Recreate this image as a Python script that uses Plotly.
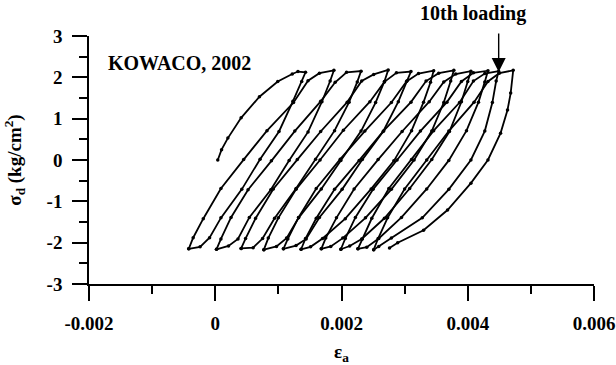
import plotly.graph_objects as go

# Axial strain / deviator stress, read cycle by cycle (reload branch + unload branch)
strain_c1 = [0.00004, 0.00010, 0.00020, 0.00041, 0.00070, 0.00099, 0.00122, 0.00131, 0.00143,
             0.00137, 0.00123, 0.00101, 0.00071, 0.00042, 0.00009, -0.00009, -0.00024, -0.00042]
stress_c1 = [0.00, 0.25, 0.53, 1.02, 1.53, 1.90, 2.08, 2.14, 2.12,
             1.90, 1.42, 0.69, 0.02, -0.71, -1.40, -1.88, -2.10, -2.15]

strain_c2 = [-0.00042, -0.00035, -0.00019, 0.00009, 0.00045, 0.00082, 0.00124, 0.00147, 0.00165, 0.00188,
             0.00182, 0.00169, 0.00147, 0.00117, 0.00088, 0.00054, 0.00036, 0.00021, 0.00002]
stress_c2 = [-2.15, -1.88, -1.42, -0.69, 0.01, 0.71, 1.39, 1.92, 2.10, 2.17,
             1.91, 1.41, 0.68, -0.01, -0.72, -1.39, -1.91, -2.08, -2.16]

strain_c3 = [0.00002, 0.00009, 0.00025, 0.00052, 0.00089, 0.00126, 0.00167, 0.00190, 0.00208, 0.00231,
             0.00225, 0.00212, 0.00189, 0.00159, 0.00128, 0.00094, 0.00075, 0.00060, 0.00041]
stress_c3 = [-2.16, -1.91, -1.39, -0.72, -0.02, 0.70, 1.42, 1.88, 2.12, 2.15,
             1.89, 1.40, 0.71, 0.02, -0.69, -1.41, -1.90, -2.12, -2.14]

strain_c4 = [0.00041, 0.00048, 0.00064, 0.00092, 0.00130, 0.00167, 0.00209, 0.00232, 0.00251, 0.00274,
             0.00268, 0.00254, 0.00231, 0.00199, 0.00168, 0.00132, 0.00113, 0.00097, 0.00077]
stress_c4 = [-2.14, -1.90, -1.41, -0.70, 0.01, 0.69, 1.40, 1.91, 2.07, 2.18,
             1.90, 1.39, 0.70, -0.01, -0.70, -1.40, -1.89, -2.09, -2.17]

strain_c5 = [0.00077, 0.00084, 0.00100, 0.00128, 0.00166, 0.00203, 0.00245, 0.00268, 0.00287, 0.00310,
             0.00304, 0.00290, 0.00266, 0.00233, 0.00201, 0.00165, 0.00144, 0.00128, 0.00108]
stress_c5 = [-2.17, -1.89, -1.40, -0.71, 0.00, 0.72, 1.41, 1.89, 2.11, 2.14,
             1.92, 1.41, 0.69, 0.01, -0.71, -1.39, -1.91, -2.07, -2.15]

strain_c6 = [0.00108, 0.00115, 0.00132, 0.00160, 0.00198, 0.00237, 0.00279, 0.00303, 0.00322, 0.00346,
             0.00341, 0.00330, 0.00311, 0.00283, 0.00247, 0.00206, 0.00170, 0.00151, 0.00136]
stress_c6 = [-2.15, -1.91, -1.39, -0.69, 0.02, 0.70, 1.39, 1.90, 2.09, 2.16,
             1.88, 1.40, 0.71, -0.02, -0.70, -1.42, -1.90, -2.10, -2.16]

strain_c7 = [0.00136, 0.00143, 0.00160, 0.00189, 0.00228, 0.00267, 0.00310, 0.00334, 0.00354, 0.00378,
             0.00373, 0.00362, 0.00343, 0.00315, 0.00279, 0.00238, 0.00202, 0.00183, 0.00168]
stress_c7 = [-2.16, -1.90, -1.41, -0.71, -0.01, 0.71, 1.40, 1.91, 2.10, 2.17,
             1.91, 1.39, 0.70, 0.00, -0.71, -1.40, -1.89, -2.09, -2.15]

strain_c8 = [0.00168, 0.00175, 0.00192, 0.00220, 0.00258, 0.00296, 0.00339, 0.00362, 0.00381, 0.00405,
             0.00400, 0.00390, 0.00371, 0.00343, 0.00308, 0.00268, 0.00232, 0.00213, 0.00199]
stress_c8 = [-2.15, -1.89, -1.40, -0.70, 0.01, 0.69, 1.41, 1.89, 2.08, 2.15,
             1.90, 1.41, 0.69, 0.01, -0.69, -1.41, -1.91, -2.08, -2.16]

strain_c9 = [0.00199, 0.00206, 0.00222, 0.00250, 0.00288, 0.00325, 0.00367, 0.00390, 0.00409, 0.00432,
             0.00427, 0.00417, 0.00398, 0.00370, 0.00335, 0.00295, 0.00259, 0.00240, 0.00226]
stress_c9 = [-2.16, -1.90, -1.39, -0.71, 0.00, 0.70, 1.40, 1.90, 2.11, 2.16,
             1.89, 1.40, 0.71, -0.01, -0.70, -1.39, -1.90, -2.11, -2.15]

strain_c10 = [0.00226, 0.00233, 0.00248, 0.00275, 0.00311, 0.00346, 0.00387, 0.00409, 0.00427, 0.00449,
              0.00445, 0.00439, 0.00427, 0.00405, 0.00370, 0.00328, 0.00279, 0.00259, 0.00251]
stress_c10 = [-2.15, -1.91, -1.41, -0.69, 0.01, 0.71, 1.39, 1.91, 2.09, 2.15,
              1.91, 1.39, 0.70, 0.00, -0.71, -1.40, -1.89, -2.09, -2.17]

strain_c11 = [0.00251, 0.00258, 0.00273, 0.00300, 0.00335, 0.00370, 0.00410, 0.00432, 0.00450, 0.00472,
              0.00468, 0.00463, 0.00452, 0.00432, 0.00405, 0.00368, 0.00330, 0.00289, 0.00276]
stress_c11 = [-2.17, -1.90, -1.40, -0.70, 0.00, 0.70, 1.40, 1.90, 2.10, 2.17,
              1.62, 1.21, 0.65, 0.00, -0.56, -1.21, -1.70, -2.00, -2.13]

x_ticks = [-0.002, 0, 0.002, 0.004, 0.006]
x_tick_labels = ["-0.002", "0", "0.002", "0.004", "0.006"]
y_ticks = [-3, -2, -1, 0, 1, 2, 3]
y_tick_labels = ["-3", "-2", "-1", "0", "1", "2", "3"]

tenth_peak = (0.00449, 2.13)

cycles = [
    (strain_c1, stress_c1), (strain_c2, stress_c2), (strain_c3, stress_c3),
    (strain_c4, stress_c4), (strain_c5, stress_c5), (strain_c6, stress_c6),
    (strain_c7, stress_c7), (strain_c8, stress_c8), (strain_c9, stress_c9),
    (strain_c10, stress_c10), (strain_c11, stress_c11),
]

FONT = "Liberation Serif"

fig = go.Figure()
for i, (e, s) in enumerate(cycles):
    fig.add_trace(go.Scatter(
        x=e, y=s, mode="lines+markers",
        line=dict(color="black", width=1.8),
        marker=dict(color="black", size=3.5),
        showlegend=False, name=f"cycle {i + 1}",
    ))

axis_common = dict(
    showline=True, linecolor="black", linewidth=1.5,
    ticks="outside", ticklen=15, tickwidth=1.5, tickcolor="black",
    showgrid=False, zeroline=False, mirror=False,
    tickfont=dict(family=FONT, size=19, color="black", weight="bold"),
    ticklabelstandoff=6,
)

fig.update_xaxes(
    range=[-0.002, 0.006], tickvals=x_ticks, ticktext=x_tick_labels,
    minor=dict(dtick=0.001, tick0=0, ticks="outside", ticklen=8, tickwidth=1.5, tickcolor="black"),
    title=dict(text="ε<sub>a</sub>", font=dict(family=FONT, size=19, color="black", weight="bold"), standoff=12),
    **axis_common,
)
fig.update_yaxes(
    range=[-3, 3], tickvals=y_ticks, ticktext=y_tick_labels,
    minor=dict(dtick=0.5, tick0=0, ticks="outside", ticklen=8, tickwidth=1.5, tickcolor="black"),
    title=dict(text="σ<sub>d</sub> (kg/cm<sup>2</sup>)", font=dict(family=FONT, size=19, color="black", weight="bold"), standoff=20),
    **axis_common,
)

fig.add_annotation(
    x=0.0337, y=0.893, xref="paper", yref="paper", xanchor="left", yanchor="middle",
    text="KOWACO, 2002", showarrow=False,
    font=dict(family=FONT, size=20, color="black", weight="bold"),
)
fig.add_annotation(
    x=0.760, y=1.089, xref="paper", yref="paper", xanchor="center", yanchor="middle",
    text="10th loading", showarrow=False,
    font=dict(family=FONT, size=20, color="black", weight="bold"),
)
fig.add_annotation(
    x=tenth_peak[0], y=tenth_peak[1], xref="x", yref="y", text="",
    showarrow=True, ax=0, ay=-40, arrowhead=2, arrowsize=2, arrowwidth=1.4,
    arrowcolor="black", standoff=0,
)

fig.update_layout(
    width=616, height=365,
    margin=dict(l=89, r=22, t=36, b=81, autoexpand=False),
    paper_bgcolor="white", plot_bgcolor="white",
    font=dict(family=FONT, color="black"),
)

fig.write_html("out.html")
